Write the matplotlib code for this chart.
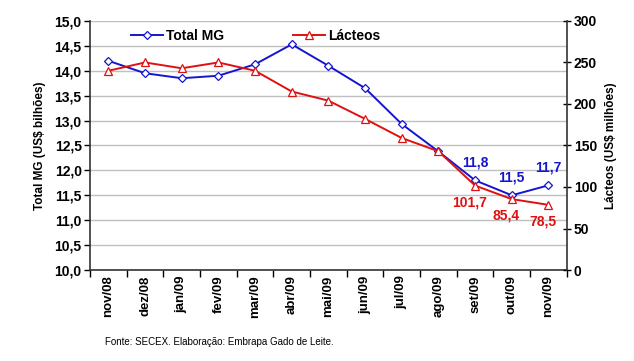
import matplotlib.pyplot as plt
import numpy as np

plt.rcParams['font.family'] = ['Liberation Sans', 'DejaVu Sans']
plt.rcParams['font.size'] = 9

# dados
meses = ["nov/08", "dez/08", "jan/09", "fev/09", "mar/09", "abr/09", "mai/09",
         "jun/09", "jul/09", "ago/09", "set/09", "out/09", "nov/09"]
total_mg = [14.2, 13.95, 13.85, 13.9, 14.13, 14.53, 14.1, 13.65, 12.93, 12.38, 11.8, 11.5, 11.7]
lacteos = [240, 250, 243, 250, 240, 215, 204, 182, 159, 143, 101.7, 85.4, 78.5]
rot_total = {10: "11,8", 11: "11,5", 12: "11,7"}
rot_lact = {10: "101,7", 11: "85,4", 12: "78,5"}

AZUL = "#1515d0"
VERMELHO = "#e01010"

fig = plt.figure(figsize=(6.34, 3.61), dpi=100)
ax = fig.add_axes([0.142, 0.252, 0.752, 0.69])
ax2 = ax.twinx()

x = np.arange(len(meses))

l1, = ax.plot(x, total_mg, color=AZUL, lw=1.4, marker='D', markersize=4.5,
              markerfacecolor='white', markeredgecolor=AZUL, markeredgewidth=0.9,
              label="Total MG", zorder=3)
l2, = ax2.plot(x, lacteos, color=VERMELHO, lw=1.4, marker='^', markersize=5.5,
               markerfacecolor='white', markeredgecolor=VERMELHO, markeredgewidth=0.9,
               label="Lácteos", zorder=3)

ax.set_xlim(-0.5, len(meses) - 0.5)
ax.set_ylim(10, 15)
ax2.set_ylim(0, 300)
ax.set_yticks(np.arange(10, 15.01, 0.5))
ax.set_yticklabels([f"{v:.1f}".replace(".", ",") for v in np.arange(10, 15.01, 0.5)],
                   fontweight='bold', fontsize=10)
ax2.set_yticks(np.arange(0, 301, 50))
ax2.set_yticklabels([str(v) for v in range(0, 301, 50)], fontweight='bold', fontsize=10)

ax.set_xticks(x)
ax.set_xticklabels(meses, rotation=90, fontweight='bold', fontsize=9.5)
ax.tick_params(axis='x', which='major', length=0, pad=4)
ax.set_xticks(np.arange(-0.5, len(meses), 1), minor=True)
ax.tick_params(axis='x', which='minor', length=5, direction='out', width=1)
ax.tick_params(axis='y', length=4, direction='out', width=1, pad=2)
ax2.tick_params(axis='y', length=6, direction='inout', width=1, pad=2)

ax.grid(axis='y', color='#c0c0c0', lw=1)
ax.set_axisbelow(True)
for a in (ax, ax2):
    a.spines['top'].set_visible(False)
ax2.spines['left'].set_visible(False)
ax.spines['right'].set_visible(False)
for s in ('left', 'bottom'):
    ax.spines[s].set_color('#333333')
    ax.spines[s].set_linewidth(1.2)
ax2.spines['right'].set_color('#333333')
ax2.spines['right'].set_linewidth(1.2)
ax2.spines['bottom'].set_visible(False)

ax.set_ylabel("Total MG (US$ bilhões)", fontweight='bold', fontsize=8.5, labelpad=6)
ax2.set_ylabel("Lácteos (US$ milhões)", fontweight='bold', fontsize=8.5, labelpad=6)

for i, t in rot_total.items():
    ax.annotate(t, (x[i], total_mg[i]), xytext=(0, 8), textcoords='offset points',
                ha='center', va='bottom', color=AZUL, fontweight='bold', fontsize=10)
for i, t in rot_lact.items():
    ax2.annotate(t, (x[i], lacteos[i]), xytext=(-4, -7), textcoords='offset points',
                 ha='center', va='top', color=VERMELHO, fontweight='bold', fontsize=10)

fig.legend([l1, l2], ["Total MG", "Lácteos"], loc='upper left', bbox_to_anchor=(0.187, 0.955),
           ncol=2, frameon=False, columnspacing=5.0, handlelength=2.3, handletextpad=0.2,
           prop={'weight': 'bold', 'size': 10})

fig.text(0.166, 0.045, "Fonte: SECEX. Elaboração: Embrapa Gado de Leite.", fontsize=7.0)

fig.savefig("out.png", dpi=100)
